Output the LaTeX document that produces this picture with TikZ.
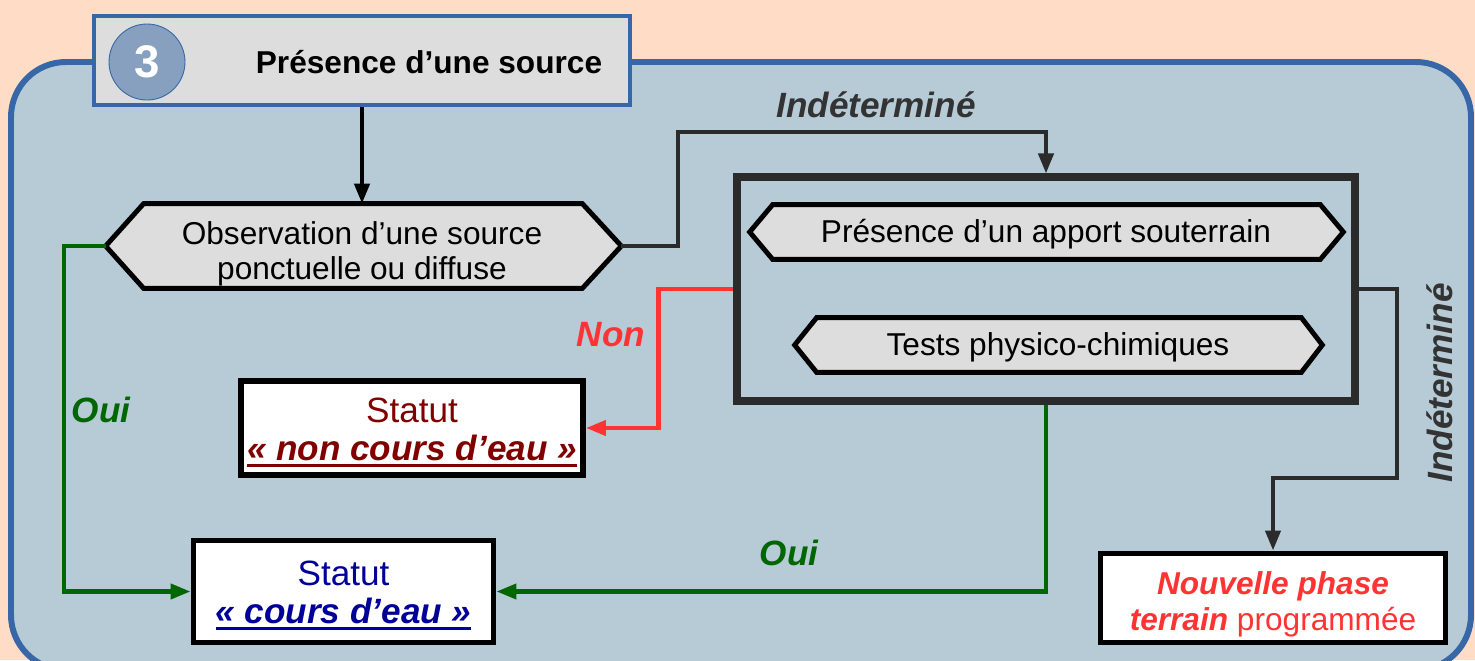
\documentclass[tikz,border=0pt]{standalone}
\usepackage{fontspec}
\setmainfont{Liberation Sans}
\usetikzlibrary{arrows.meta,calc}
\definecolor{peach}{RGB}{255,220,198}
\definecolor{panel}{RGB}{182,203,214}
\definecolor{panelborder}{RGB}{55,103,167}
\definecolor{boxgray}{RGB}{221,221,221}
\definecolor{circfill}{RGB}{135,160,192}
\definecolor{darkline}{RGB}{43,43,43}
\definecolor{ouigreen}{RGB}{0,102,0}
\definecolor{nonred}{RGB}{255,51,51}
\definecolor{darkred}{RGB}{128,0,0}
\definecolor{navyblue}{RGB}{0,0,153}
\definecolor{labelgray}{RGB}{51,51,51}
\newcommand\myul[1]{\setbox0\hbox{#1}\rlap{\rule[-3.3pt]{\wd0}{1.2pt}}\box0}
\tikzset{
  txt/.style={font=\fontsize{18}{20}\selectfont, align=center},
  stattxt/.style={font=\fontsize{20}{22}\selectfont, align=center},
  statbox/.style={draw=black, line width=3.4pt, fill=white, inner sep=0pt},
  hexnode/.style={inner sep=0pt},
  hexline/.style={draw=black, line width=2.8pt, fill=boxgray, line join=miter},
  lbl/.style={font=\fontsize{20}{22}\selectfont\bfseries\itshape},
  arr/.style={-{Triangle[length=0.4cm,width=0.3cm]}, line width=2.4pt},
}
\begin{document}
\begin{tikzpicture}[x=0.02cm,y=-0.02cm]
\useasboundingbox (0,0) rectangle (1475,660);
\fill[peach] (0,0) rectangle (1475,660);
\clip (0,0) rectangle (1475,660);
% panel
\draw[panelborder, line width=3.4pt, fill=panel, rounded corners=1.1cm] (11,62) rectangle (1471,670);
% title box
\node[draw=panelborder, line width=2.8pt, fill=boxgray, minimum width=536*0.02cm, minimum height=89*0.02cm, inner sep=0pt] (title) at (362,60.5) {};
\node[circle, draw=panelborder, line width=0.5pt, fill=circfill, minimum size=76*0.02cm, inner sep=0pt, text=white, font=\fontsize{26}{28}\selectfont\bfseries] (num) at (147,62) {3};
\node[font=\fontsize{18}{20}\selectfont\bfseries] (ttext) at (429,62) {Présence d’une source};
% big box
\node[draw=darkline, line width=4pt, minimum width=618*0.02cm, minimum height=224*0.02cm, inner sep=0pt] (big) at (1046,289) {};
% hexagon 1
\node[hexnode, minimum width=515*0.02cm, minimum height=84*0.02cm] (obs) at (363.5,246) {};
\path[hexline] (obs.west) -- ($(obs.north west)+(38,0)$) -- ($(obs.north east)+(-39,0)$) -- (obs.east) -- ($(obs.south east)+(-39,0)$) -- ($(obs.south west)+(38,0)$) -- cycle;
\node[txt] (obstxt) at (362,254) {Observation d’une source\\ponctuelle ou diffuse};
% hexagon 2
\node[hexnode, minimum width=593*0.02cm, minimum height=54*0.02cm] (app) at (1046.5,232) {};
\path[hexline] (app.west) -- ($(app.north west)+(23,0)$) -- ($(app.north east)+(-23,0)$) -- (app.east) -- ($(app.south east)+(-23,0)$) -- ($(app.south west)+(23,0)$) -- cycle;
\node[txt] (apptxt) at (1046,234) {Présence d’un apport souterrain};
% hexagon 3
\node[hexnode, minimum width=527*0.02cm, minimum height=54*0.02cm] (tests) at (1058.5,345) {};
\path[hexline] (tests.west) -- ($(tests.north west)+(22,0)$) -- ($(tests.north east)+(-21,0)$) -- (tests.east) -- ($(tests.south east)+(-21,0)$) -- ($(tests.south west)+(22,0)$) -- cycle;
\node[txt] (teststxt) at (1058,347) {Tests physico-chimiques};
% status boxes
\node[statbox, minimum width=342*0.02cm, minimum height=94*0.02cm] (non) at (412,428) {};
\node[stattxt, text=darkred] (nontxt) at (412,432) {Statut\\\myul{\bfseries\itshape « non cours d’eau »}};
\node[statbox, minimum width=300*0.02cm, minimum height=102*0.02cm] (cours) at (343.5,591.5) {};
\node[stattxt, text=navyblue] (courstxt) at (343.5,595) {Statut\\\myul{\bfseries\itshape « cours d’eau »}};
\node[statbox, minimum width=345*0.02cm, minimum height=89*0.02cm] (nouv) at (1273,598) {};
\node[txt, text=nonred, font=\fontsize{18}{20.5}\selectfont] (nouvtxt) at (1273,604) {{\bfseries\itshape Nouvelle phase}\\{\bfseries\itshape terrain} programmée};
% connectors
\coordinate (k1) at (678,132);
\coordinate (r2) at (1397,478);
\draw[arr, black] (title.south) -- (title.south |- obs.north);
\draw[arr, ouigreen] (obs.west) -- ($(obs.west)+(-42,0)$) |- (cours.west);
\draw[arr, darkline] (obs.east) -| (k1) -| (big.north);
\draw[arr, nonred] (big.west) -- ++(-75,0) |- (non.east);
\draw[arr, ouigreen] (big.south) |- (cours.east);
\draw[arr, darkline] (big.east) -| (r2) -| (nouv.north);
% labels
\node[lbl, text=labelgray] (ind1) at (876,105) {Indéterminé};
\node[lbl, text=labelgray, rotate=90] (ind2) at (1440,383) {Indéterminé};
\node[lbl, text=ouigreen] (oui1) at (101,410) {Oui};
\node[lbl, text=ouigreen] (oui2) at (789,553) {Oui};
\node[lbl, text=nonred] (nonl) at (611,335) {Non};
\end{tikzpicture}
\end{document}
